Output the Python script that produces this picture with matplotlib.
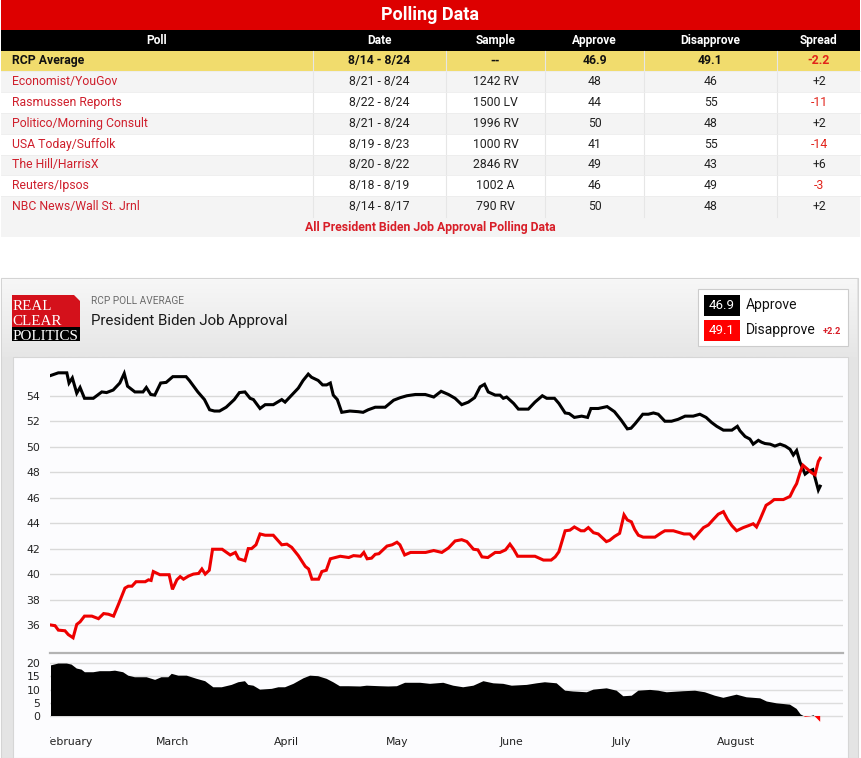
import numpy as np
import matplotlib
matplotlib.use("Agg")
import matplotlib.pyplot as plt
import matplotlib.dates as mdates
from matplotlib.patches import Rectangle, Polygon
from matplotlib.colors import LinearSegmentedColormap

# ---------- table data ----------
header = ["Poll", "Date", "Sample", "Approve", "Disapprove", "Spread"]
polls = ["Economist/YouGov", "Rasmussen Reports", "Politico/Morning Consult",
         "USA Today/Suffolk", "The Hill/HarrisX", "Reuters/Ipsos",
         "NBC News/Wall St. Jrnl"]
poll_dates = ["8/21 - 8/24", "8/22 - 8/24", "8/21 - 8/24", "8/19 - 8/23",
              "8/20 - 8/22", "8/18 - 8/19", "8/14 - 8/17"]
samples = ["1242 RV", "1500 LV", "1996 RV", "1000 RV", "2846 RV", "1002 A", "790 RV"]
poll_approve = [48, 44, 50, 41, 49, 46, 50]
poll_disapprove = [46, 55, 48, 55, 43, 49, 48]
rcp_dates = "8/14 - 8/24"
rcp_approve = 46.9
rcp_disapprove = 49.1

# ---------- chart data (days after 2021-01-27) ----------
START = np.datetime64("2021-01-27")
approve_days = [
    0, 2, 4.3, 4.9, 5.8, 7, 7.9, 9.1, 11.5, 13.8,
    15.1, 16.9, 18.7, 19.9, 20.8, 22.8, 25, 25.9, 27.1, 28.2,
    29.8, 31.3, 33.1, 36.7, 37.6, 39.9, 41.7, 43.1, 44.4, 45.8,
    47.6, 49.8, 51.2, 52.7, 54.1, 55, 56.8, 58.2, 60.4, 62.7,
    63.6, 65.4, 67.2, 68.5, 69.9, 70.8, 72.6, 73.8, 74.9, 75.9,
    76.7, 77.8, 79, 81.2, 83.5, 84.8, 86.2, 88.1, 89.5, 90.8,
    93.1, 94.9, 96.7, 99, 101.7, 104, 106, 108, 109.8, 111.6,
    113.4, 115.1, 116.6, 117.8, 118.8, 120.7, 122, 122.9, 123.8, 125.7,
    127, 129.7, 131.5, 133.5, 134.7, 136.8, 138, 139.7, 140.8, 142.2,
    144.2, 145.8, 146.7, 148.7, 151.1, 153.1, 154.9, 156.6, 157.6, 158.7,
    160.8, 162.3, 163.7, 165, 166.8, 168.6, 170.4, 172.3, 174.5, 176.3,
    178, 179.5, 180.9, 182.7, 185, 186.5, 187.2, 188.6, 189.9, 190.8,
    192.2, 193.1, 194, 195.4, 196.7, 198.1, 199.5, 200.8, 201.7, 202.6,
    203.5, 204.4, 204.9, 205.8, 207, 207.9, 208.5, 209]
approve_pct = [
    55.6, 55.8, 55.8, 55.0, 55.4, 54.2, 54.65, 53.8, 53.8, 54.3,
    54.25, 54.45, 55.0, 55.75, 54.75, 54.3, 54.3, 54.65, 54.1, 54.05,
    55.0, 55.05, 55.5, 55.5, 55.2, 54.3, 53.7, 52.9, 52.8, 52.8,
    53.1, 53.7, 54.25, 54.3, 53.8, 53.7, 53.0, 53.3, 53.3, 53.7,
    53.5, 54.05, 54.6, 55.2, 55.7, 55.45, 55.2, 54.85, 54.85, 55.0,
    54.05, 53.7, 52.7, 52.8, 52.75, 52.7, 52.9, 53.1, 53.1, 53.1,
    53.65, 53.85, 54.0, 54.1, 54.1, 53.9, 54.35, 54.1, 53.8, 53.3,
    53.5, 53.85, 54.7, 54.9, 54.3, 54.05, 54.05, 53.8, 53.9, 53.4,
    52.95, 52.95, 53.5, 54.0, 53.8, 53.8, 53.4, 52.65, 52.6, 52.3,
    52.4, 52.3, 53.0, 53.0, 53.15, 52.75, 52.1, 51.4, 51.45, 51.8,
    52.55, 52.55, 52.65, 52.55, 52.0, 52.0, 52.15, 52.4, 52.4, 52.55,
    52.3, 51.9, 51.6, 51.3, 51.3, 51.6, 51.25, 50.8, 50.6, 50.2,
    50.5, 50.35, 50.25, 50.2, 50.05, 50.2, 50.05, 49.8, 49.35, 49.7,
    48.8, 48.2, 47.85, 48.05, 48.2, 47.25, 46.6, 46.9]

disapprove_days = [
    0, 1.1, 2, 3.8, 4.7, 6, 7, 7.9, 9.1, 11.1,
    12.9, 14.3, 15.6, 17, 18.3, 20.1, 21, 22, 23.1, 25.6,
    26.5, 27.2, 27.8, 29.6, 32.1, 33, 34.2, 35.1, 36, 37.4,
    38.7, 40.1, 41, 41.9, 43, 43.9, 45.6, 46.5, 48.7, 50.1,
    51, 52.7, 53.6, 54.5, 55.7, 56.8, 58.2, 60.4, 62.7, 64.1,
    65.4, 67.2, 69.1, 70, 70.9, 72.7, 73.6, 74.8, 75.9, 77.2,
    78.6, 80.9, 82.2, 84.1, 85, 85.9, 87.1, 88.1, 89.1, 91.3,
    92.7, 94, 94.8, 96.1, 97.7, 100.4, 101.8, 104, 106.2, 108,
    109.8, 111.6, 113, 114.8, 116, 117.1, 118.7, 120.7, 122, 123.5,
    124.7, 125.7, 126.8, 131.5, 133.8, 135.9, 137, 138, 139.7, 141,
    142.2, 144, 144.9, 146, 147.4, 148.7, 150.9, 151.8, 153.1, 154.5,
    155.7, 156.6, 157.7, 158.6, 159.6, 160.9, 164.1, 165.9, 166.8, 169.1,
    170.9, 172, 173.6, 174.7, 175.9, 177.3, 178.6, 180, 181.3, 182.7,
    183.8, 185, 186.3, 188.1, 189.5, 190.8, 191.7, 192.6, 194.3, 195.4,
    196.5, 199, 200.8, 201.9, 202.6, 203.5, 204.3, 205.3, 206.7, 207.6,
    208.5, 209]
disapprove_pct = [
    36.0, 35.95, 35.6, 35.55, 35.25, 35.0, 36.05, 36.25, 36.7, 36.7,
    36.5, 36.9, 36.85, 36.7, 37.6, 38.9, 39.05, 39.05, 39.4, 39.4,
    39.55, 39.5, 40.2, 39.95, 39.95, 38.8, 39.55, 39.8, 39.6, 39.85,
    40.0, 40.05, 40.4, 40.0, 40.3, 41.95, 41.95, 41.95, 41.5, 41.7,
    41.2, 41.05, 42.0, 42.0, 42.3, 43.15, 43.05, 43.05, 42.3, 42.35,
    42.1, 41.45, 40.6, 40.4, 39.6, 39.6, 40.2, 40.3, 41.2, 41.3,
    41.4, 41.3, 41.45, 41.4, 41.7, 41.2, 41.25, 41.55, 41.6, 42.2,
    42.3, 42.5, 42.3, 41.5, 41.7, 41.7, 41.7, 41.85, 41.7, 42.05,
    42.6, 42.7, 42.55, 41.95, 41.9, 41.35, 41.3, 41.7, 41.7, 41.9,
    42.35, 41.95, 41.4, 41.4, 41.1, 41.1, 41.35, 41.75, 43.4, 43.45,
    43.7, 43.4, 43.4, 43.65, 43.25, 43.15, 42.55, 42.65, 42.95, 43.2,
    44.65, 44.25, 44.1, 43.5, 43.05, 42.9, 42.9, 43.25, 43.4, 43.4,
    43.25, 43.15, 43.15, 42.8, 43.2, 43.65, 43.85, 44.3, 44.7, 44.9,
    44.3, 43.8, 43.4, 43.65, 43.8, 43.95, 43.7, 44.25, 45.4, 45.6,
    45.85, 45.85, 46.1, 46.75, 47.1, 47.95, 48.55, 48.3, 47.95, 47.8,
    48.85, 49.1]

spread_days = [
    0, 2, 4.3, 5.6, 7, 8.3, 9.2, 11.5, 13.3, 16,
    17.4, 19.6, 21, 22.8, 26, 28.3, 30, 31.9, 32.8, 34.6,
    36.9, 39.6, 41.9, 44.1, 46.4, 49.1, 50.9, 52.7, 53.6, 55,
    56.8, 60, 61.8, 63.6, 65.9, 68.6, 70.4, 72.6, 74.9, 76.7,
    78.5, 80.8, 84, 85.8, 89.4, 91.7, 94, 96.2, 100.3, 103,
    106.6, 109.3, 112, 114.8, 117.5, 120.2, 122.9, 125.2, 129.3, 132,
    134.2, 137.4, 139.7, 141.9, 145.6, 147.4, 151, 153.7, 155.5, 157.8,
    159.6, 162.8, 165, 167.3, 171.8, 175, 177.7, 180.4, 182.7, 186.3,
    189, 192.7, 194.5, 197.2, 200.8, 202.6, 203.7, 204.9, 206.3, 207.2,
    208.1, 209]
spread_pts = [
    19.2, 19.9, 19.9, 19.5, 18.0, 17.6, 16.6, 16.6, 17.0, 17.0,
    17.2, 16.6, 15.3, 14.7, 14.7, 13.7, 14.7, 14.7, 16.0, 15.3,
    15.3, 14.1, 13.2, 10.9, 10.9, 11.8, 12.8, 13.2, 11.8, 11.5,
    10.0, 10.3, 10.9, 10.9, 12.2, 14.3, 15.3, 15.1, 14.1, 12.8,
    11.3, 11.3, 11.2, 11.5, 11.3, 11.2, 11.3, 12.6, 12.6, 12.2,
    12.6, 11.5, 10.9, 11.5, 13.2, 12.4, 12.2, 11.5, 11.8, 12.4,
    12.8, 12.4, 9.6, 9.3, 9.0, 10.0, 10.5, 9.6, 7.5, 7.7,
    9.6, 9.9, 9.6, 9.0, 9.4, 9.6, 9.0, 7.7, 6.9, 8.1,
    7.1, 6.7, 5.5, 4.8, 4.3, 2.7, 0.6, -0.3, -0.1, 0.3,
    -0.9, -2.2]

month_names = ["February", "March", "April", "May", "June", "July", "August"]
month_starts = [np.datetime64("2021-%02d-01" % m) for m in range(2, 9)]

# ---------- figure ----------
W, H = 861, 758
LINK = "#cf1f2c"
plt.rcParams["font.family"] = ["Roboto", "DejaVu Sans"]

fig = plt.figure(figsize=(W / 100, H / 100), dpi=100)
bg = fig.add_axes([0, 0, 1, 1])
bg.set_xlim(0, W)
bg.set_ylim(H, 0)
bg.axis("off")


def box(x0, y0, x1, y1, fc, ec="none", lw=0, z=1):
    bg.add_patch(Rectangle((x0, y0), x1 - x0, y1 - y0, facecolor=fc,
                           edgecolor=ec, lw=lw, zorder=z))


def fy(y):
    return 1 - y / H


# --- polling table ---
col_edges = [0, 313, 446, 545, 644, 777, 861]
col_mid = [(a + b) / 2 for a, b in zip(col_edges[:-1], col_edges[1:])]
box(1, 0, 860, 30, "#dd0000")
bg.text(430, 15.5, "Polling Data", ha="center", va="center", color="white",
        fontsize=13, fontweight="bold")
box(1, 30, 860, 50.5, "black")
for i, h in enumerate(header):
    bg.text(col_mid[i], 40.5, h, ha="center", va="center", color="white",
            fontsize=8.6, fontweight="bold")

row_h = 20.8
top = 50.5
box(1, top, 860, top + row_h, "#f1dc6d")
yc = top + row_h / 2
bg.text(12, yc, "RCP Average", va="center", fontsize=8.8, fontweight="bold", color="#111")
rcp_cells = [rcp_dates, "--", "%.1f" % rcp_approve, "%.1f" % rcp_disapprove]
for j, s in enumerate(rcp_cells):
    bg.text(col_mid[j + 1], yc, s, ha="center", va="center", fontsize=8.8,
            fontweight="bold", color="#111")
rcp_spread = rcp_approve - rcp_disapprove
bg.text(col_mid[5], yc, "%+.1f" % rcp_spread, ha="center", va="center", fontsize=8.8,
        fontweight="bold", color="#e2231a" if rcp_spread < 0 else "#111")

for i, name in enumerate(polls):
    y0 = top + (i + 1) * row_h
    box(1, y0, 860, y0 + row_h, "#f4f4f4" if i % 2 == 0 else "white")
    yc = y0 + row_h / 2
    bg.text(12, yc, name, va="center", fontsize=8.8, color=LINK)
    cells = [poll_dates[i], samples[i], str(poll_approve[i]), str(poll_disapprove[i])]
    for j, s in enumerate(cells):
        bg.text(col_mid[j + 1], yc, s, ha="center", va="center", fontsize=8.8, color="#222")
    sp = poll_approve[i] - poll_disapprove[i]
    bg.text(col_mid[5], yc, "%+d" % sp, ha="center", va="center", fontsize=8.8,
            color="#e2231a" if sp < 0 else "#222")

table_bottom = top + 8 * row_h
for x in col_edges[1:-1]:
    bg.plot([x, x], [top, table_bottom], color="#e6e6e6", lw=0.8, zorder=2)
for k in range(1, 8):
    bg.plot([1, 860], [top + k * row_h] * 2, color="#ececec", lw=0.6, zorder=2)
box(1, table_bottom, 860, table_bottom + 20.4, "#f4f4f4")
bg.text(430, table_bottom + 10.2, "All President Biden Job Approval Polling Data",
        ha="center", va="center", fontsize=8.8, fontweight="bold", color="#d81e28")

# --- chart widget frame ---
box(1, 278, 858, 758, "#e4e4e4", ec="#d4d4d4", lw=0.8)
grad = LinearSegmentedColormap.from_list("g", ["#f7f7f7", "#e6e6e6"])
bg.imshow(np.linspace(0, 1, 60)[:, None], cmap=grad, aspect="auto",
          extent=[2, 857, 357, 279], zorder=1.2)
box(13, 357, 848, 758, "#fcfcfe", ec="#d6d6d6", lw=0.8, z=1.5)

# logo
bg.add_patch(Polygon([(12, 295), (74, 295), (80, 301), (80, 327), (12, 327)],
                     closed=True, facecolor="#d4111b", edgecolor="none", zorder=2))
box(12, 327, 80, 341, "black", z=2)
for s, yb in [("REAL", 310.5), ("CLEAR", 325), ("POLITICS", 339.5)]:
    bg.text(12.5, yb, s, va="baseline", ha="left", color="white", fontsize=10.8,
            family="Liberation Serif", zorder=3)

bg.text(91, 301, "RCP POLL AVERAGE", va="center", fontsize=7.3, color="#6b6b6b", zorder=3)
bg.text(91, 321, "President Biden Job Approval", va="center", fontsize=10.8,
        color="#1a1a1a", zorder=3)

# legend box
box(698, 289, 848, 346, "white", ec="#cccccc", lw=0.8, z=2)
box(704, 295, 740, 316, "black", z=3)
box(704, 320, 740, 341, "#ff0000", z=3)
bg.text(722, 305.5, "%.1f" % rcp_approve, ha="center", va="center", color="white",
        fontsize=9.6, zorder=4)
bg.text(722, 330.5, "%.1f" % rcp_disapprove, ha="center", va="center", color="white",
        fontsize=9.6, zorder=4)
bg.text(745.5, 305, "Approve", va="center", fontsize=10, color="#111", zorder=4)
bg.text(745.5, 330, "Disapprove", va="center", fontsize=10, color="#111", zorder=4)
bg.text(823, 331.5, "%+.1f" % (rcp_disapprove - rcp_approve), va="center", fontsize=6.6,
        fontweight="bold", color="#d81e28", zorder=4)

# separator between panels
bg.plot([50, 843], [653, 653], color="#b3b3b3", lw=1.6, zorder=3)

# --- main line chart ---
base = mdates.date2num(START)
xmin, xmax = base - 0.27, base + 215.2

ax = fig.add_axes([50 / W, fy(650), 793 / W, (650 - 362) / H])
ax.set_facecolor("none")
ax.plot(base + np.array(approve_days), approve_pct, color="black", lw=2.2,
        solid_joinstyle="miter", zorder=3)
ax.plot(base + np.array(disapprove_days), disapprove_pct, color="#ee0000", lw=2.2,
        solid_joinstyle="miter", zorder=3)
ax.set_xlim(xmin, xmax)
ax.set_ylim(34.04, 56.65)
ax.set_yticks(range(36, 55, 2))
ax.set_xticks([])
ax.grid(axis="y", color="#d9d9d9", lw=1)
ax.set_axisbelow(True)
ax.tick_params(axis="y", length=0, pad=7, labelsize=7.8, labelcolor="#222")
for lbl in ax.get_yticklabels():
    lbl.set_family("DejaVu Sans")
for sp in ax.spines.values():
    sp.set_visible(False)

# --- spread area ---
ax2 = fig.add_axes([50 / W, fy(724), 793 / W, (724 - 658) / H])
ax2.set_facecolor("none")
sx = base + np.array(spread_days)
sv = np.array(spread_pts)
ax2.fill_between(sx, sv, 0, where=sv >= 0, interpolate=True, color="black", lw=0, zorder=3)
ax2.fill_between(sx, sv, 0, where=sv <= 0, interpolate=True, color="#ff0000", lw=0, zorder=3)
ax2.set_xlim(xmin, xmax)
ax2.set_ylim(-3.03, 22.0)
ax2.set_yticks([0, 5, 10, 15, 20])
ax2.set_xticks([])
ax2.grid(axis="y", color="#dddddd", lw=1)
ax2.set_axisbelow(True)
ax2.tick_params(axis="y", length=0, pad=7, labelsize=7.8, labelcolor="#222")
for lbl in ax2.get_yticklabels():
    lbl.set_family("DejaVu Sans")
for sp in ax2.spines.values():
    sp.set_visible(False)

# --- month labels (clipped at the left edge like the original) ---
axm = fig.add_axes([50 / W, fy(756), 793 / W, (756 - 728) / H])
axm.set_xlim(xmin, xmax)
axm.set_ylim(0, 1)
axm.axis("off")
for name, ms in zip(month_names, month_starts):
    t = axm.text(mdates.date2num(ms), 0.5, name, ha="center", va="center", fontsize=7.8,
                 color="#222", family="DejaVu Sans")
    t.set_clip_box(axm.bbox)
    t.set_clip_on(True)

fig.savefig("out.png", dpi=100)
